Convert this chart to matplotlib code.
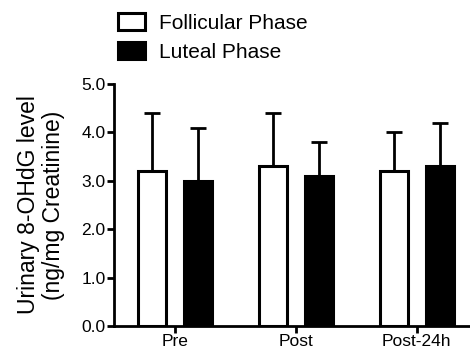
import numpy as np
import matplotlib.pyplot as plt
from matplotlib.patches import Patch

plt.rcParams['font.family'] = ['Liberation Sans', 'DejaVu Sans']

groups = ["Pre", "Post", "Post-24h"]
follicular = [3.2, 3.3, 3.2]
follicular_err = [1.2, 1.1, 0.8]
luteal = [3.0, 3.1, 3.3]
luteal_err = [1.1, 0.7, 0.9]

fig = plt.figure(figsize=(4.7, 3.53), dpi=100)
ax = fig.add_axes([0.2426, 0.0765, 0.7574, 0.6856])

x = np.arange(len(groups))
off = 0.188
w = 0.232

ax.bar(x - off, follicular, width=w, color="white", edgecolor="black",
       linewidth=2.2, zorder=2)
ax.bar(x + off, luteal, width=w, color="black", edgecolor="black",
       linewidth=2.2, zorder=2)

ax.errorbar(x - off, follicular, yerr=[np.zeros(3), follicular_err],
            fmt="none", ecolor="black", elinewidth=2, capsize=5.8,
            capthick=2, zorder=1)
ax.errorbar(x + off, luteal, yerr=[np.zeros(3), luteal_err],
            fmt="none", ecolor="black", elinewidth=2, capsize=5.8,
            capthick=2, zorder=1)

ax.set_xlim(-0.504, 2.44)
ax.set_ylim(0, 5.0)
ax.set_yticks([0, 1, 2, 3, 4, 5])
ax.set_yticklabels(["0.0", "1.0", "2.0", "3.0", "4.0", "5.0"])
ax.set_xticks(x)
ax.set_xticklabels(groups)

for s in ["top", "right"]:
    ax.spines[s].set_visible(False)
for s in ["left", "bottom"]:
    ax.spines[s].set_linewidth(2)
ax.tick_params(axis="both", direction="out", length=5, width=2,
               labelsize=12.5, pad=1)

ax.set_ylabel("Urinary 8-OHdG level\n(ng/mg Creatinine)", fontsize=16.5,
              labelpad=12, linespacing=1.12)

handles = [Patch(facecolor="white", edgecolor="black", linewidth=2.2),
           Patch(facecolor="black", edgecolor="black", linewidth=2.2)]
fig.legend(handles, ["Follicular Phase", "Luteal Phase"],
           loc="upper left", bbox_to_anchor=(0.250, 0.962),
           frameon=False, fontsize=15, handlelength=1.3,
           handleheight=0.85, handletextpad=0.7, labelspacing=0.45,
           borderpad=0, borderaxespad=0)

fig.savefig("out.png", dpi=100)
